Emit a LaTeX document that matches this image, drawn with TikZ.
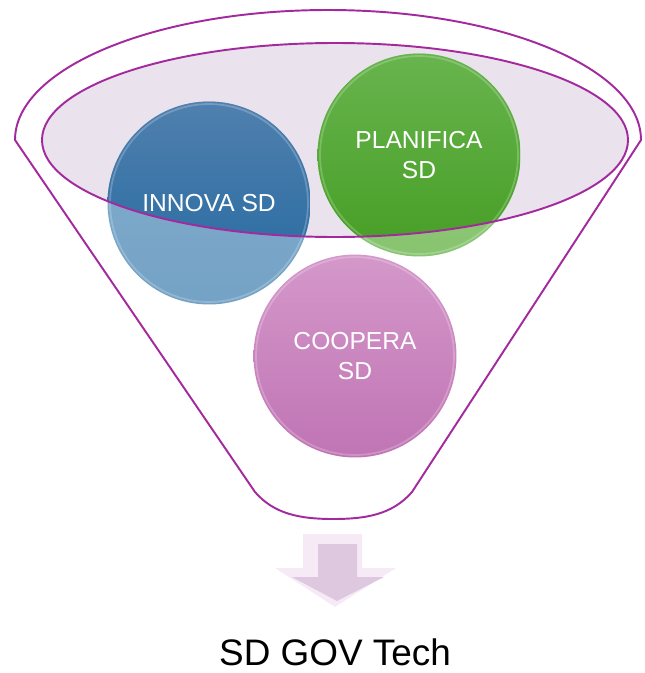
\documentclass[tikz,border=0pt]{standalone}
\usepackage{fontspec}
\setmainfont{Liberation Sans}
\usetikzlibrary{positioning}
\definecolor{rimline}{RGB}{163,42,158}
\definecolor{rimfill}{RGB}{234,226,236}
\definecolor{blueltA}{RGB}{132,174,206}
\definecolor{blueltB}{RGB}{116,162,197}
\definecolor{bluedkA}{RGB}{80,128,174}
\definecolor{bluedkB}{RGB}{34,104,160}
\definecolor{greenltA}{RGB}{150,206,128}
\definecolor{greenltB}{RGB}{136,196,112}
\definecolor{greendkA}{RGB}{104,180,78}
\definecolor{greendkB}{RGB}{70,158,36}
\definecolor{pinkltA}{RGB}{212,152,202}
\definecolor{pinkltB}{RGB}{192,116,180}
\definecolor{pinkdkA}{RGB}{180,90,168}
\definecolor{pinkdkB}{RGB}{160,70,150}
\definecolor{arrowface}{RGB}{222,200,224}
\definecolor{arrowedge}{RGB}{246,234,246}
\tikzset{
  funnel/.style={draw=rimline, line width=1.1pt, fill=white},
  rim/.style={draw=rimline, line width=1.1pt},
  ball/.style={circle, minimum size=4.06cm, inner sep=0pt, align=center,
               text=white, font=\fontsize{14}{17}\selectfont,
               top color=#1ltA, bottom color=#1ltB,
               path picture={
                 \begin{scope}
                   \clip (rimc) ellipse [x radius=5.86cm, y radius=1.94cm];
                   \shade[top color=#1dkA, bottom color=#1dkB]
                     (path picture bounding box.south west) rectangle
                     (path picture bounding box.north east);
                 \end{scope}
                 \draw[white, opacity=.22, line width=1pt]
                   (path picture bounding box.center) circle (1.98cm);
               }},
  title/.style={font=\fontsize{21}{25}\selectfont, text=black, inner sep=0pt},
}
\begin{document}
\begin{tikzpicture}[x=0.02cm, y=-0.02cm]
\useasboundingbox (0,0) rectangle (645,673);
\coordinate (rimc) at (335,140);
% funnel body
\draw[funnel] (15,140) arc[start angle=180, end angle=360, x radius=313, y radius=130]
  -- (412,492) .. controls (392,515) and (365,519) .. (333,519)
  .. controls (300,519) and (274,514) .. (255,492) -- cycle;
\fill[rimfill] (rimc) ellipse [x radius=293, y radius=97];
% the three balls
\node[ball=blue] (innova) at (209,203) {INNOVA SD};
\node[ball=green] (planifica) at (419,155) {PLANIFICA\\SD};
\node[ball=pink] (coopera) at (355,356) {COOPERA\\SD};
\draw[rim] (rimc) ellipse [x radius=293, y radius=97];
% block arrow
\fill[arrowedge] (303,534) -- (362,534) -- (362,568) -- (396,568) -- (335,607)
  -- (275,568) -- (303,568) -- cycle;
\fill[arrowface] (318,544) -- (357,544) -- (357,577) -- (384,577) -- (337,601)
  -- (292,577) -- (318,577) -- cycle;
\node[title] (out) at (335,652) {SD GOV Tech};
\end{tikzpicture}
\end{document}
